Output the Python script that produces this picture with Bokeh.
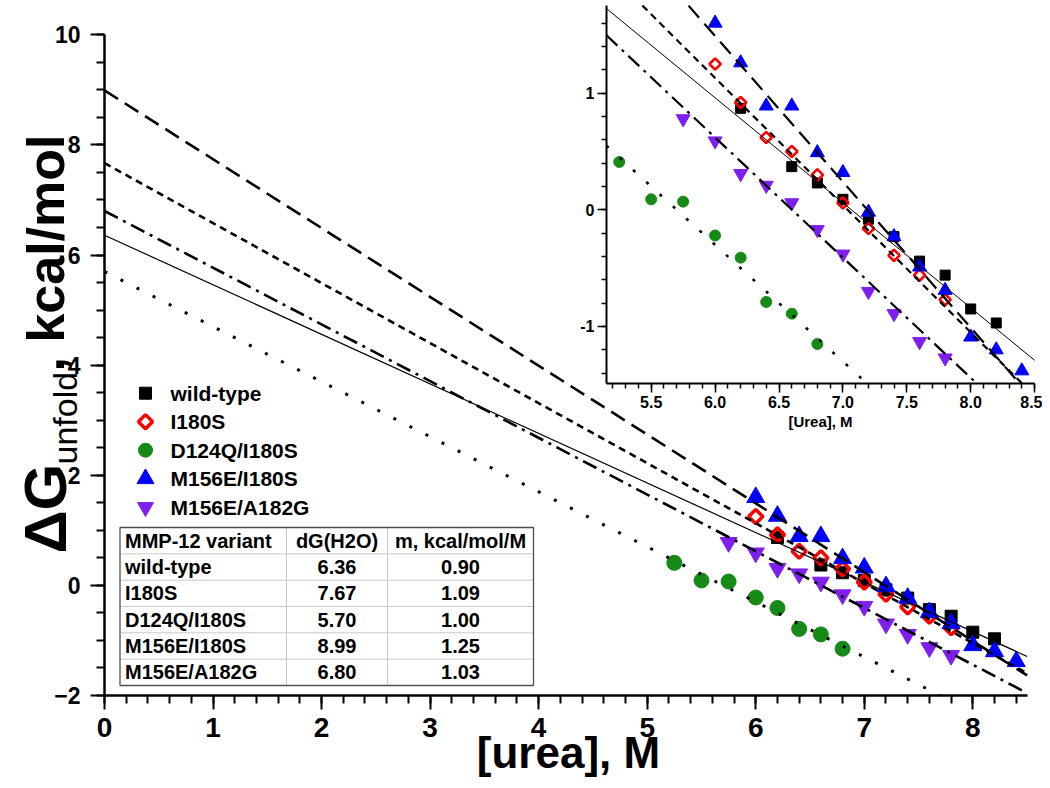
import numpy as np
from bokeh.plotting import figure
from bokeh.models import Range1d, FixedTicker, Label, LinearAxis, NumeralTickFormatter
from bokeh.core.properties import value
from bokeh.embed import file_html
from bokeh.resources import INLINE

# ---------------- data ----------------
variants = ["wild-type", "I180S", "D124Q/I180S", "M156E/I180S", "M156E/A182G"]
dG_h2o = [6.36, 7.67, 5.70, 8.99, 6.80]
m_value = [0.90, 1.09, 1.00, 1.25, 1.03]
table_header = ["MMP-12 variant", "dG(H2O)", "m, kcal/mol/M"]

wt_urea = [6.2, 6.6, 6.8, 7.0, 7.2, 7.4, 7.6, 7.8, 8.0, 8.2]
wt_dg = [0.87, 0.37, 0.23, 0.09, -0.08, -0.23, -0.44, -0.56, -0.85, -0.97]
i180s_urea = [6.0, 6.2, 6.4, 6.6, 6.8, 7.0, 7.2, 7.4, 7.6, 7.8]
i180s_dg = [1.25, 0.92, 0.62, 0.50, 0.30, 0.06, -0.16, -0.39, -0.56, -0.77]
d124q_urea = [5.25, 5.5, 5.75, 6.0, 6.2, 6.4, 6.6, 6.8]
d124q_dg = [0.41, 0.09, 0.07, -0.22, -0.41, -0.79, -0.89, -1.15]
m156e_i180s_urea = [6.0, 6.2, 6.4, 6.6, 6.8, 7.0, 7.2, 7.4, 7.6, 7.8, 8.0, 8.2, 8.4]
m156e_i180s_dg = [1.60, 1.26, 0.89, 0.89, 0.49, 0.32, -0.02, -0.23, -0.49, -0.69, -1.09, -1.20, -1.38]
m156e_a182g_urea = [5.75, 6.0, 6.2, 6.4, 6.6, 6.8, 7.0, 7.2, 7.4, 7.6, 7.8]
m156e_a182g_dg = [0.78, 0.59, 0.31, 0.21, 0.06, -0.17, -0.38, -0.70, -0.89, -1.13, -1.27]

main_x_ticks = [0, 1, 2, 3, 4, 5, 6, 7, 8]
main_y_ticks = [-2, 0, 2, 4, 6, 8, 10]
inset_x_ticks = [5.5, 6.0, 6.5, 7.0, 7.5, 8.0, 8.5]
inset_y_ticks = [-1, 0, 1]

series_x = [wt_urea, i180s_urea, d124q_urea, m156e_i180s_urea, m156e_a182g_urea]
series_y = [wt_dg, i180s_dg, d124q_dg, m156e_i180s_dg, m156e_a182g_dg]

# ---------------- styles ----------------
colors = ["#000000", "#ff0000", "#168a16", "#0000ff", "#7f1fef"]
markers = ["square", "square", "circle", "triangle", "inverted_triangle"]
angles = [0, np.pi / 4, 0, 0, 0]
hollow = [False, True, False, False, False]
main_sizes = [12, 10, 15, 18, 17]
inset_sizes = [10, 8, 11, 14, 14]
legend_sizes = [12, 10, 14, 17, 16]
dashes = ["solid", "7 5", "3 15", "16 8", "15 6 3 6"]
widths = [1.2, 2.6, 3.0, 2.6, 2.6]
inset_widths = [1.0, 2.2, 2.6, 2.2, 2.2]

FONT = "Liberation Sans"
BOLD = value(FONT)

# ---------------- layout (image pixels) ----------------
CANVAS_W, CANVAS_H = 1042, 780
OFF = 0
X0PX, XSC = 104.0, 108.54
Y0PX, YSC = 584.9, 55.06
IX0PX, IXSC, IX0 = 650.7, 127.8, 5.5
IY0PX, IYSC = 209.3, 116.67
LBL_SHIFT = 20  # rotated-label anchor correction
X_MIN, X_MAX, Y_MIN, Y_MAX = 0, 8.5, -2, 10


def px_x(px):
    return (px - X0PX) / XSC


def px_y(py):
    return (Y0PX - py) / YSC


def ipx_x(px):
    return IX0 + (px - IX0PX) / IXSC


def ipx_y(py):
    return (IY0PX - py) / IYSC


L_PX, R_PX, T_PX, B_PX = OFF, OFF + CANVAS_W, OFF, OFF + CANVAS_H

p = figure(width=CANVAS_W, height=CANVAS_H,
           x_range=Range1d(px_x(L_PX), px_x(R_PX)),
           y_range=Range1d(px_y(B_PX), px_y(T_PX)),
           output_backend="svg", toolbar_location=None,
           min_border_left=0, min_border_right=0, min_border_top=0, min_border_bottom=0)
p.extra_x_ranges = {"ix": Range1d(ipx_x(L_PX), ipx_x(R_PX))}
p.extra_y_ranges = {"iy": Range1d(ipx_y(B_PX), ipx_y(T_PX))}
p.outline_line_color = None
p.xgrid.visible = False
p.ygrid.visible = False
p.background_fill_color = "white"
p.border_fill_color = "white"

# main axes (fixed at the data origin corner)
xa = p.xaxis[0]
xa.fixed_location = Y_MIN
xa.ticker = FixedTicker(ticks=main_x_ticks, minor_ticks=list(np.round(np.arange(0, 8.5, 0.2), 2)))
xa.bounds = (X_MIN, X_MAX)
ya = p.yaxis[0]
ya.fixed_location = X_MIN
ya.ticker = FixedTicker(ticks=main_y_ticks, minor_ticks=list(np.arange(-2, 10.01, 0.5)))
ya.bounds = (Y_MIN, Y_MAX)
for ax in (xa, ya):
    ax.axis_line_width = 2.5
    ax.major_tick_line_width = 2
    ax.minor_tick_line_width = 2
    ax.major_tick_out = 14
    ax.major_tick_in = 0
    ax.minor_tick_out = 8
    ax.minor_tick_in = 0
    ax.major_label_text_font = FONT
    ax.major_label_text_font_style = "bold"
    ax.major_label_text_color = "black"
xa.major_label_text_font_size = "28px"
xa.major_label_standoff = 8
ya.major_label_text_font_size = "23px"
ya.major_label_standoff = 10

# ---------------- main plot ----------------
for i in range(5):
    kw = dict(marker=markers[i], size=main_sizes[i], angle=angles[i])
    if hollow[i]:
        p.scatter(series_x[i], series_y[i], fill_color=None, line_color=colors[i], line_width=3.5, **kw)
    else:
        p.scatter(series_x[i], series_y[i], fill_color=colors[i], line_color=colors[i], **kw)

for i in range(5):
    a, m = dG_h2o[i], m_value[i]
    xs = np.array([X_MIN, min(X_MAX, (a - Y_MIN) / m)])
    p.line(xs, a - m * xs, line_color="black", line_width=widths[i], line_dash=dashes[i])

# legend (manual)
LEG_X, LEG_TX, LEG_Y0, LEG_DY = 145, 170, 392.7, 28.5
for i in range(5):
    ly = px_y(LEG_Y0 + i * LEG_DY)
    kw = dict(marker=markers[i], size=legend_sizes[i], angle=angles[i])
    if hollow[i]:
        p.scatter([px_x(LEG_X)], [ly], fill_color=None, line_color=colors[i], line_width=3.5, **kw)
    else:
        p.scatter([px_x(LEG_X)], [ly], fill_color=colors[i], line_color=colors[i], **kw)
    p.text([px_x(LEG_TX)], [ly], text=[variants[i]], text_font=BOLD, text_font_style="bold",
           text_font_size="21px", text_baseline="middle", text_align="left", text_color="black")

# table
T_L, T_C1, T_C2, T_R, T_TOP, T_RH = 119.5, 286, 387, 533, 527, 26.33
T_BOT = T_TOP + 6 * T_RH
p.quad(left=[px_x(T_L)], right=[px_x(T_R)], top=[px_y(T_TOP)], bottom=[px_y(T_BOT)],
       fill_color="white", line_color=None)
for r in range(1, 6):
    yy = px_y(T_TOP + r * T_RH)
    p.segment(px_x(T_L), yy, px_x(T_R), yy, line_color="#c8c8c8", line_width=1)
for cx in (T_C1, T_C2):
    p.segment(px_x(cx), px_y(T_TOP), px_x(cx), px_y(T_BOT), line_color="#c8c8c8", line_width=1)
p.quad(left=[px_x(T_L)], right=[px_x(T_R)], top=[px_y(T_TOP)], bottom=[px_y(T_BOT)],
       fill_color=None, line_color="#505050", line_width=1.3)
rows = [table_header] + [[variants[i], f"{dG_h2o[i]:.2f}", f"{m_value[i]:.2f}"] for i in range(5)]
for r, row in enumerate(rows):
    ty = px_y(T_TOP + (r + 0.5) * T_RH)
    common = dict(text_font=BOLD, text_font_style="bold", text_font_size="20px",
                  text_baseline="middle", text_color="black")
    p.text([px_x(T_L + 5)], [ty], text=[row[0]], text_align="left", **common)
    p.text([px_x((T_C1 + T_C2) / 2)], [ty], text=[row[1]], text_align="center", **common)
    p.text([px_x((T_C2 + T_R) / 2)], [ty], text=[row[2]], text_align="center", **common)

# ---------------- inset ----------------
IXL, IXH, IYL, IYH = 5.15, 8.5, -1.49, 1.75
R = dict(x_range_name="ix", y_range_name="iy")
for i in range(5):
    kw = dict(marker=markers[i], size=inset_sizes[i], angle=angles[i], **R)
    if hollow[i]:
        p.scatter(series_x[i], series_y[i], fill_color=None, line_color=colors[i], line_width=2.6, **kw)
    else:
        p.scatter(series_x[i], series_y[i], fill_color=colors[i], line_color=colors[i], **kw)
for i in range(5):
    a, m = dG_h2o[i], m_value[i]
    x_lo = max(IXL, (a - IYH) / m)
    x_hi = min(IXH, (a - IYL) / m)
    xs = np.array([x_lo, x_hi])
    p.line(xs, a - m * xs, line_color="black", line_width=inset_widths[i], line_dash=dashes[i], **R)

ixa = LinearAxis(x_range_name="ix", y_range_name="iy", fixed_location=IYL, bounds=(IXL, IXH),
                 ticker=FixedTicker(ticks=inset_x_ticks,
                                    minor_ticks=list(np.round(np.arange(5.2, 8.51, 0.1), 2))),
                 formatter=NumeralTickFormatter(format="0.0"),
                 axis_label="[Urea], M")
iya = LinearAxis(x_range_name="ix", y_range_name="iy", fixed_location=IXL, bounds=(IYL, IYH),
                 ticker=FixedTicker(ticks=inset_y_ticks,
                                    minor_ticks=list(np.round(np.arange(-1.4, 1.75, 0.2), 2))),
                 formatter=NumeralTickFormatter(format="0"))
for ax in (ixa, iya):
    ax.axis_line_width = 2
    ax.major_tick_line_width = 1.5
    ax.minor_tick_line_width = 1.5
    ax.major_tick_out = 9
    ax.major_tick_in = 0
    ax.minor_tick_out = 5
    ax.minor_tick_in = 0
    ax.major_label_text_font = FONT
    ax.major_label_text_font_style = "bold"
    ax.major_label_text_font_size = "16px"
    ax.major_label_text_color = "black"
    ax.major_label_standoff = 3
ixa.axis_label_text_font = FONT
ixa.axis_label_text_font_style = "bold"
ixa.axis_label_text_font_size = "15px"
ixa.axis_label_text_color = "black"
ixa.axis_label_standoff = 2
p.add_layout(ixa, "below")
p.add_layout(iya, "left")

# ---------------- axis titles ----------------
p.add_layout(Label(x=px_x(568), y=px_y(752), text="[urea], M", text_font=FONT,
                   text_font_size="44px", text_font_style="bold", text_align="center",
                   text_baseline="middle", text_color="black"))
p.add_layout(Label(x=px_x(65 - LBL_SHIFT), y=px_y(553), text="ΔG", angle=np.pi / 2, text_font=FONT,
                   text_font_size="60px", text_font_style="bold", text_align="left",
                   text_baseline="alphabetic", text_color="black"))
p.add_layout(Label(x=px_x(84 - LBL_SHIFT), y=px_y(464), text="unfold", angle=np.pi / 2, text_font=FONT,
                   text_font_size="34px", text_font_style="normal", text_align="left",
                   text_baseline="alphabetic", text_color="black"))
p.add_layout(Label(x=px_x(65 - LBL_SHIFT), y=px_y(371), text=", kcal/mol", angle=np.pi / 2, text_font=FONT,
                   text_font_size="52px", text_font_style="bold", text_align="left",
                   text_baseline="alphabetic", text_color="black"))

open("out.html", "w").write(file_html(p, INLINE))
